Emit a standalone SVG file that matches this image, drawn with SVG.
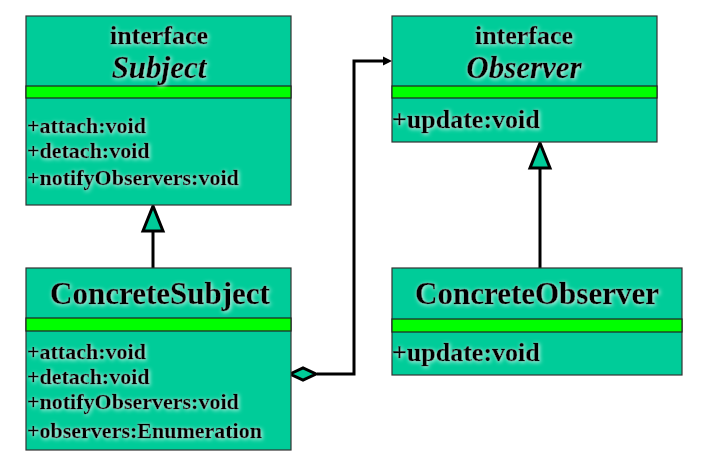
<svg xmlns="http://www.w3.org/2000/svg" width="720" height="463" viewBox="0 0 720 463">
<defs>
<style>
.box{fill:#00CC99;stroke:#333;stroke-width:1.2}
.band{fill:#00FF00;stroke:#222;stroke-width:1.2}
text{font-family:"Liberation Serif","Times New Roman",serif;font-weight:bold;fill:#000;stroke:#000;stroke-width:0.35;filter:url(#glow)}
.st{font-size:26px;text-anchor:middle}
.nm{font-size:31px;text-anchor:middle;font-style:italic}
.cn{font-size:31px;text-anchor:middle}
.m{font-size:22px}
.mb{font-size:26px}
.ln{fill:none;stroke:#000;stroke-width:3}
.tri{fill:#00CC99;stroke:#000;stroke-width:3;stroke-linejoin:miter}
</style>
<filter id="glow" x="-10%" y="-40%" width="120%" height="180%">
<feGaussianBlur in="SourceAlpha" stdDeviation="2" result="b"/>
<feOffset in="b" dx="1" dy="1" result="o"/>
<feFlood flood-color="#ffffff" flood-opacity="0.85"/>
<feComposite in2="o" operator="in" result="g"/>
<feMerge><feMergeNode in="g"/><feMergeNode in="SourceGraphic"/></feMerge>
</filter>
</defs>
<rect width="720" height="463" fill="#fff"/>
<g id="connectors">
<line class="ln" x1="153" y1="231" x2="153" y2="268"/>
<polygon class="tri" points="153,206 143,231 163,231"/>
<line class="ln" x1="540" y1="168" x2="540" y2="268"/>
<polygon class="tri" points="540,143 530,168 550,168"/>
<polyline class="ln" points="317,374 354,374 354,61 386,61"/>
<polygon points="392,61 383,56.5 383,65.5" fill="#000"/>
<polygon class="tri" points="290,374 303,368 316,374 303,380"/>
</g>
<g id="Subject">
<rect class="box" x="26" y="16" width="265" height="189"/>
<rect class="band" x="26" y="86" width="265" height="12"/>
<text class="st" x="159" y="44">interface</text>
<text class="nm" x="159" y="78">Subject</text>
<text class="m" x="27" y="133">+attach:void</text>
<text class="m" x="27" y="158">+detach:void</text>
<text class="m" x="27" y="185">+notifyObservers:void</text>
</g>
<g id="ConcreteSubject">
<rect class="box" x="26" y="268" width="265" height="182"/>
<rect class="band" x="26" y="318" width="265" height="13"/>
<text class="cn" x="160" y="304">ConcreteSubject</text>
<text class="m" x="27" y="359">+attach:void</text>
<text class="m" x="27" y="384">+detach:void</text>
<text class="m" x="27" y="409">+notifyObservers:void</text>
<text class="m" x="27" y="438">+observers:Enumeration</text>
</g>
<g id="Observer">
<rect class="box" x="392" y="16" width="265" height="126"/>
<rect class="band" x="392" y="86" width="265" height="12"/>
<text class="st" x="524" y="44">interface</text>
<text class="nm" x="524" y="78">Observer</text>
<text class="mb" x="392" y="128">+update:void</text>
</g>
<g id="ConcreteObserver">
<rect class="box" x="392" y="268" width="290" height="107"/>
<rect class="band" x="392" y="319" width="290" height="13"/>
<text class="cn" x="537" y="304">ConcreteObserver</text>
<text class="mb" x="392" y="361">+update:void</text>
</g>
</svg>
